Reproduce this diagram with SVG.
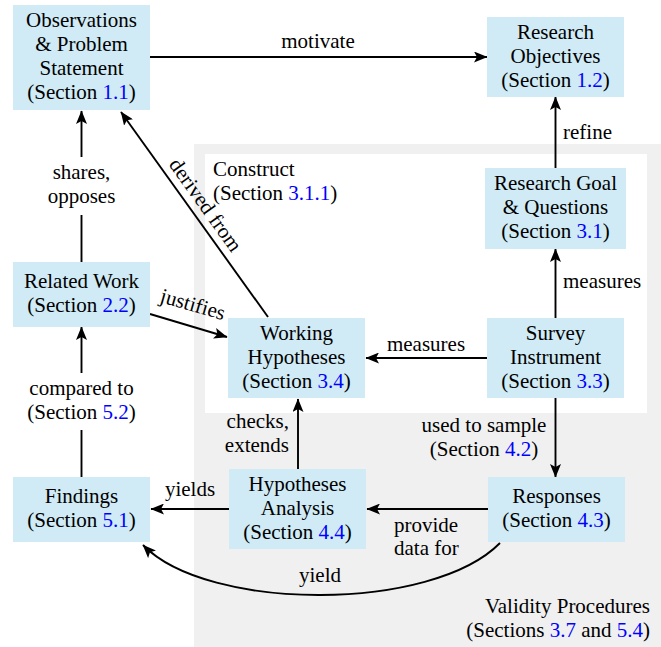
<svg xmlns="http://www.w3.org/2000/svg" width="661" height="647" viewBox="0 0 661 647" font-family="'Liberation Serif', 'Times New Roman', serif" font-size="21">
<style>
text{fill:#000}
.c{text-anchor:middle}
.e{text-anchor:end}
.ref{fill:#0000ff}
.node rect{fill:#d0ebf5;stroke:none}
.edge{stroke:#000;stroke-width:1.9;fill:none}
</style>
<defs>
<marker id="ah" markerUnits="userSpaceOnUse" markerWidth="14" markerHeight="11" viewBox="0 0 14 11" refX="13" refY="5.5" orient="auto">
<path d="M0,0 L13.5,5.5 L0,11 L3,5.5 z" fill="#000"/>
</marker>
</defs>
<rect x="194" y="144" width="467" height="503" fill="#f0f0f0"/>
<rect x="205" y="154" width="442" height="259" fill="#ffffff"/>
<g id="construct-label">
<text x="213" y="176">Construct</text>
<text x="213" y="200">(Section <tspan class="ref">3.1.1</tspan>)</text>
</g>
<g id="validity-label">
<text class="e" x="650" y="613">Validity Procedures</text>
<text class="e" x="650" y="637">(Sections <tspan class="ref">3.7</tspan> and <tspan class="ref">5.4</tspan>)</text>
</g>
<g id="connectors">
<line class="edge" x1="150" y1="57" x2="487" y2="57" marker-end="url(#ah)"/>
<text class="c" x="318" y="48">motivate</text>
<line class="edge" x1="555.5" y1="168" x2="555.5" y2="97" marker-end="url(#ah)"/>
<text x="563" y="139">refine</text>
<line class="edge" x1="555.5" y1="318" x2="555.5" y2="249" marker-end="url(#ah)"/>
<text x="563" y="288">measures</text>
<line class="edge" x1="487" y1="358" x2="366" y2="358" marker-end="url(#ah)"/>
<text class="c" x="426" y="351">measures</text>
<line class="edge" x1="555.5" y1="398" x2="555.5" y2="477" marker-end="url(#ah)"/>
<text class="c" x="484" y="432">used to sample</text>
<text class="c" x="484" y="456">(Section <tspan class="ref">4.2</tspan>)</text>
<line class="edge" x1="488" y1="509" x2="367" y2="509" marker-end="url(#ah)"/>
<text x="394" y="532">provide</text>
<text x="394" y="555">data for</text>
<line class="edge" x1="229" y1="509" x2="151" y2="509" marker-end="url(#ah)"/>
<text class="c" x="190" y="496">yields</text>
<line class="edge" x1="298" y1="469" x2="298" y2="399" marker-end="url(#ah)"/>
<text class="e" x="289" y="428">checks,</text>
<text class="e" x="289" y="452">extends</text>
<path class="edge" d="M500,543 C432,612 208,612 143,545" marker-end="url(#ah)"/>
<text class="c" x="320" y="582">yield</text>
<line class="edge" x1="150" y1="314" x2="227" y2="337" marker-end="url(#ah)"/>
<text class="c" transform="translate(191,311) rotate(16)">justifies</text>
<line class="edge" x1="268" y1="317" x2="121" y2="112" marker-end="url(#ah)"/>
<text class="c" transform="translate(200,209) rotate(54.5)">derived from</text>
<line class="edge" x1="81.5" y1="262" x2="81.5" y2="215"/>
<line class="edge" x1="81.5" y1="157" x2="81.5" y2="111" marker-end="url(#ah)"/>
<text class="c" x="81.5" y="179">shares,</text>
<text class="c" x="81.5" y="203">opposes</text>
<line class="edge" x1="81.5" y1="477" x2="81.5" y2="430"/>
<line class="edge" x1="81.5" y1="373" x2="81.5" y2="327" marker-end="url(#ah)"/>
<text class="c" x="81.5" y="395">compared to</text>
<text class="c" x="81.5" y="419">(Section <tspan class="ref">5.2</tspan>)</text>
</g>
<g id="observations" class="node">
<rect x="13" y="5" width="137" height="105"/>
<text class="c" x="81.5" y="27">Observations</text>
<text class="c" x="81.5" y="51">&amp; Problem</text>
<text class="c" x="81.5" y="75">Statement</text>
<text class="c" x="81.5" y="99">(Section <tspan class="ref">1.1</tspan>)</text>
</g>
<g id="research-objectives" class="node">
<rect x="487" y="17" width="137" height="80"/>
<text class="c" x="555.5" y="39">Research</text>
<text class="c" x="555.5" y="63">Objectives</text>
<text class="c" x="555.5" y="87">(Section <tspan class="ref">1.2</tspan>)</text>
</g>
<g id="research-goal" class="node">
<rect x="485" y="168" width="141" height="81"/>
<text class="c" x="555.5" y="190">Research Goal</text>
<text class="c" x="555.5" y="214">&amp; Questions</text>
<text class="c" x="555.5" y="238">(Section <tspan class="ref">3.1</tspan>)</text>
</g>
<g id="survey-instrument" class="node">
<rect x="487" y="318" width="137" height="80"/>
<text class="c" x="555.5" y="340">Survey</text>
<text class="c" x="555.5" y="364">Instrument</text>
<text class="c" x="555.5" y="388">(Section <tspan class="ref">3.3</tspan>)</text>
</g>
<g id="working-hypotheses" class="node">
<rect x="228" y="318" width="137" height="80"/>
<text class="c" x="296.5" y="340">Working</text>
<text class="c" x="296.5" y="364">Hypotheses</text>
<text class="c" x="296.5" y="388">(Section <tspan class="ref">3.4</tspan>)</text>
</g>
<g id="related-work" class="node">
<rect x="13" y="262" width="137" height="65"/>
<text class="c" x="81.5" y="288">Related Work</text>
<text class="c" x="81.5" y="312">(Section <tspan class="ref">2.2</tspan>)</text>
</g>
<g id="findings" class="node">
<rect x="13" y="477" width="137" height="65"/>
<text class="c" x="81.5" y="503">Findings</text>
<text class="c" x="81.5" y="527">(Section <tspan class="ref">5.1</tspan>)</text>
</g>
<g id="hypotheses-analysis" class="node">
<rect x="229" y="469" width="137" height="80"/>
<text class="c" x="297.5" y="491">Hypotheses</text>
<text class="c" x="297.5" y="515">Analysis</text>
<text class="c" x="297.5" y="539">(Section <tspan class="ref">4.4</tspan>)</text>
</g>
<g id="responses" class="node">
<rect x="488" y="477" width="137" height="65"/>
<text class="c" x="556.5" y="503">Responses</text>
<text class="c" x="556.5" y="527">(Section <tspan class="ref">4.3</tspan>)</text>
</g>
</svg>
